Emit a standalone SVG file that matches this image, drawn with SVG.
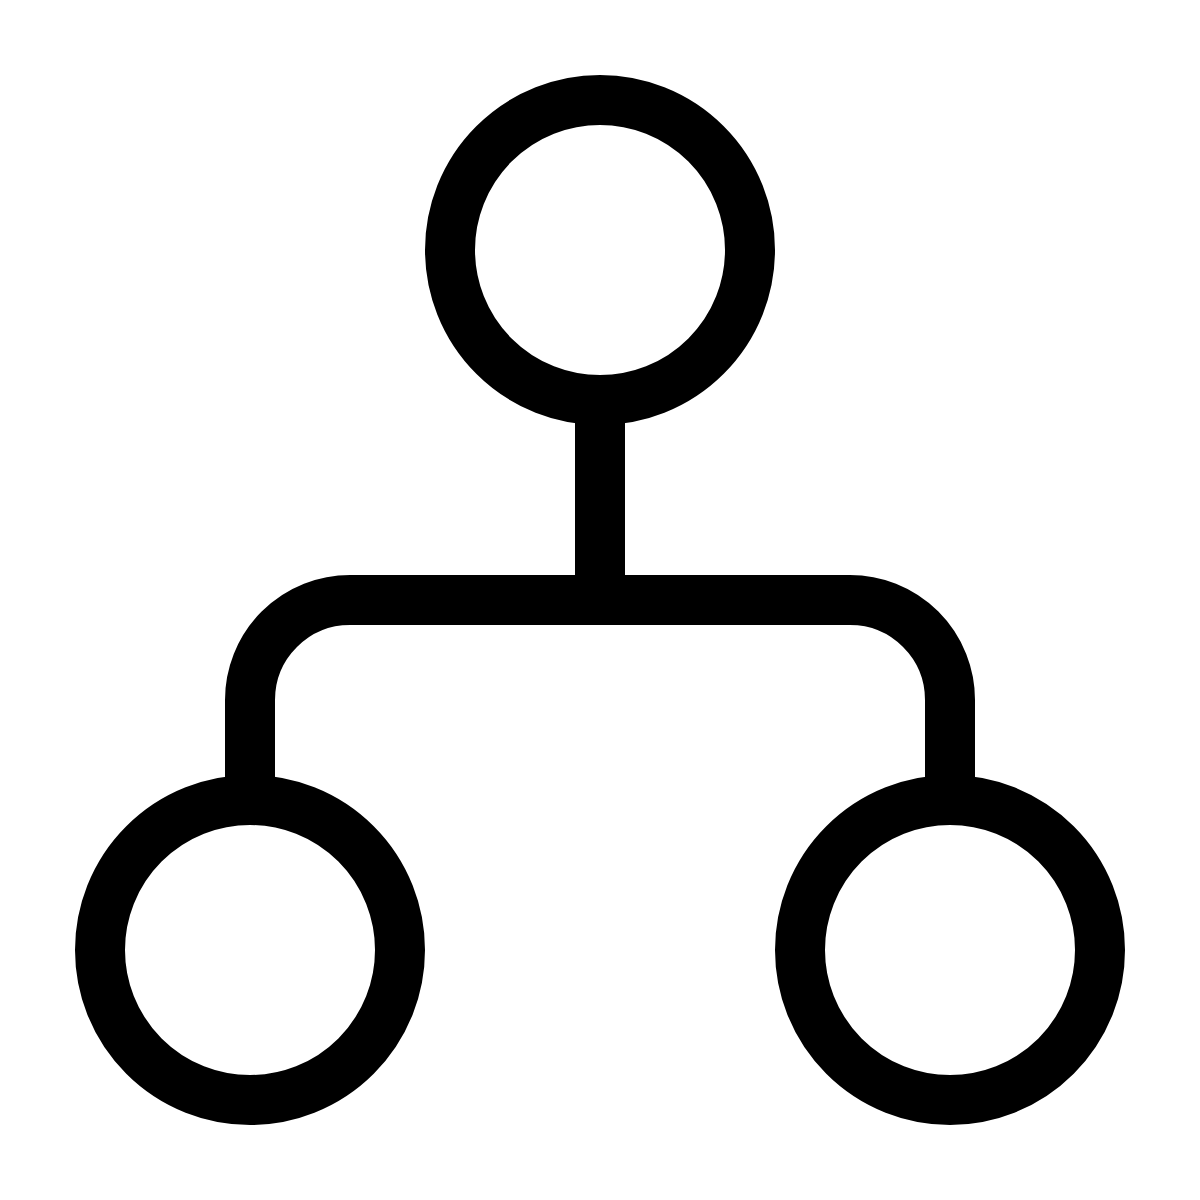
<svg xmlns="http://www.w3.org/2000/svg" width="1200" height="1200" viewBox="0 0 1200 1200">
<style>
.node{fill:none;stroke:#000;stroke-width:50}
.conn{fill:none;stroke:#000;stroke-width:50;stroke-linecap:butt}
</style>
<rect width="1200" height="1200" fill="#fff"/>
<g id="connectors">
<path class="conn" d="M600,400 V600"/>
<path class="conn" d="M250,800 V700 A100,100 0 0 1 350,600 H850 A100,100 0 0 1 950,700 V800"/>
</g>
<g id="node-top"><circle class="node" cx="600" cy="250" r="150"/></g>
<g id="node-left"><circle class="node" cx="250" cy="950" r="150"/></g>
<g id="node-right"><circle class="node" cx="950" cy="950" r="150"/></g>
</svg>
